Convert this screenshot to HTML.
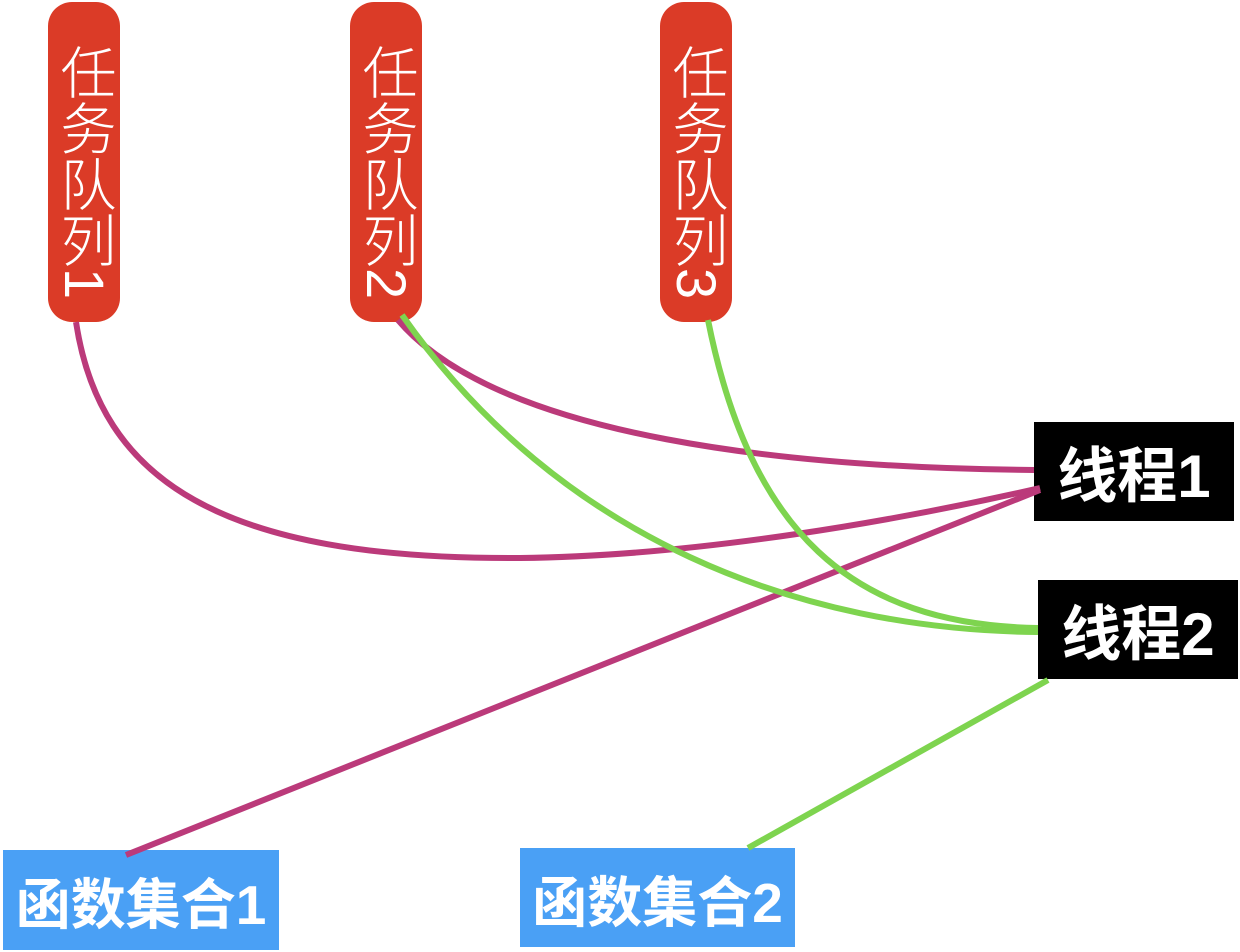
<!DOCTYPE html>
<html><head><meta charset="utf-8"><style>
body{margin:0;width:1240px;height:952px;background:#fff;position:relative;overflow:hidden;font-family:"Liberation Sans","Noto Sans CJK SC",sans-serif}
.pill{position:absolute;top:2px;width:72px;height:320px;background:#db3b27;border-radius:24px;color:#fff;writing-mode:vertical-rl;text-orientation:mixed;font-size:56px;font-weight:300;line-height:72px;text-align:center;padding-top:20px;box-sizing:border-box;letter-spacing:0px}
.box{position:absolute;color:#fff;font-weight:bold;display:flex;align-items:center;justify-content:center}
svg{position:absolute;left:0;top:0}
</style></head><body>
<div class="pill" style="left:48px">任务队列1</div>
<div class="pill" style="left:350px">任务队列2</div>
<div class="pill" style="left:660px">任务队列3</div>
<div class="box" style="left:1034px;top:422px;width:200px;height:99px;background:#000;font-size:60px">线程1</div>
<div class="box" style="left:1038px;top:580px;width:200px;height:99px;background:#000;font-size:60px">线程2</div>
<div class="box" style="left:3px;top:850px;width:276px;height:100px;background:#4aa0f5;font-size:55px">函数集合1</div>
<div class="box" style="left:520px;top:848px;width:275px;height:99px;background:#4aa0f5;font-size:55px">函数集合2</div>
<svg width="1240" height="952" fill="none" stroke-width="6">
<path d="M76 322 C100 480 220 560 520 558 C700 556 900 520 1040 488" stroke="#bb3a7a"/>
<path d="M398 320 C500 440 800 468 1034 470" stroke="#bb3a7a"/>
<path d="M126 855 L1040 490" stroke="#bb3a7a"/>
<path d="M402 315 C560 540 800 630 1038 632" stroke="#7ed44f"/>
<path d="M708 320 C750 530 850 625 1038 628" stroke="#7ed44f"/>
<path d="M748 848 L1048 680" stroke="#7ed44f"/>
</svg>
</body></html>
